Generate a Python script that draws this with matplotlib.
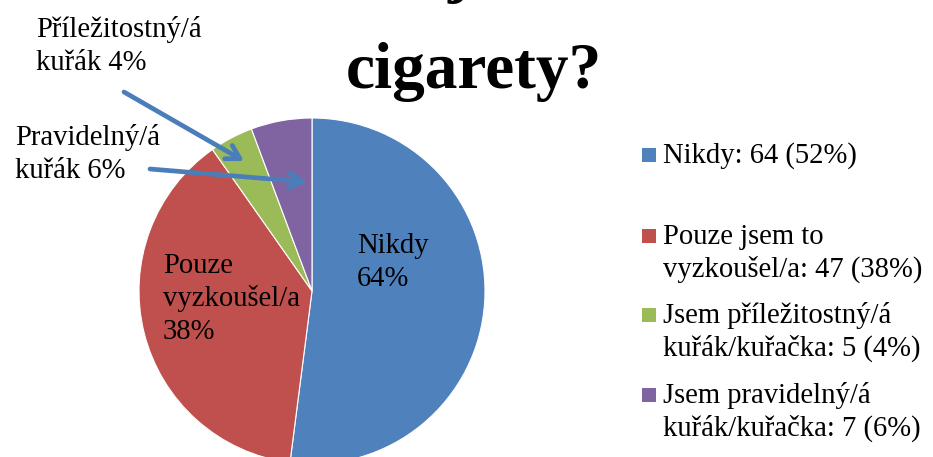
import matplotlib
matplotlib.use("Agg")
import matplotlib.pyplot as plt
from matplotlib.patches import Rectangle

# ---- data ----
categories = ["Nikdy", "Pouze jsem to vyzkoušel/a",
              "Jsem příležitostný/á kuřák/kuřačka", "Jsem pravidelný/á kuřák/kuřačka"]
counts = [64, 47, 5, 7]
colors = ["#4F81BD", "#C0504D", "#9BBB59", "#8064A2"]
legend_labels = ["Nikdy: 64 (52%)",
                 "Pouze jsem to\nvyzkoušel/a: 47 (38%)",
                 "Jsem příležitostný/á\nkuřák/kuřačka: 5 (4%)",
                 "Jsem pravidelný/á\nkuřák/kuřačka: 7 (6%)"]
inside_labels = ["Nikdy\n64%", "Pouze\nvyzkoušel/a\n38%"]
outside_labels = ["Příležitostný/á\nkuřák 4%", "Pravidelný/á\nkuřák 6%"]
title_text = "cigarety?"

W, H = 933, 457
fig = plt.figure(figsize=(W / 100, H / 100), dpi=100)
ax = fig.add_axes([0, 0, 1, 1])

# pie geometry in pixels (from top-left)
cx, cy, R = 312, 291, 173
LINE = 33  # px between baselines


def P(px, py):
    """pixel (from top-left) -> data coords in pie-radius units"""
    return ((px - cx) / R, (cy - py) / R)


def F(px, py):
    """pixel (from top-left) -> figure fraction"""
    return (px / W, 1 - py / H)


ax.pie(counts, colors=colors, startangle=90, counterclock=False,
       radius=1, center=(0, 0),
       wedgeprops=dict(edgecolor="white", linewidth=0.8))
ax.set_xlim((0 - cx) / R, (W - cx) / R)
ax.set_ylim((cy - H) / R, (cy - 0) / R)
ax.set_aspect("auto")
ax.axis("off")

FONT = "Liberation Serif"
FS = 20.6


def multiline(x, y0, label):
    for i, line in enumerate(label.split("\n")):
        fig.text(*F(x, y0 + i * LINE), line, fontsize=FS, family=FONT,
                 ha="left", va="baseline", color="black")


# inside labels
multiline(357, 253, inside_labels[0])
multiline(163, 273, inside_labels[1])

# outside labels with arrows
multiline(36, 37, outside_labels[0])
multiline(15, 145, outside_labels[1])

arrow_color = "#4A7EBB"
for start, tip in [((124, 92), (244, 161)), ((150, 169), (307, 182))]:
    ax.annotate("", xy=P(*tip), xytext=P(*start),
                arrowprops=dict(arrowstyle="->,head_length=0.95,head_width=0.55",
                                color=arrow_color, lw=3.4,
                                shrinkA=0, shrinkB=0))

# title (partially cropped by the frame, as in the reference)
fig.text(*F(474, 88), title_text, fontsize=47, family=FONT,
         fontweight="bold", ha="center", va="baseline")
fig.text(*F(458, -10), "j", fontsize=47, family=FONT,
         fontweight="bold", ha="center", va="baseline")

# legend (manual)
entry_baselines = [163, 244, 323, 403]
for lab, col, yb in zip(legend_labels, colors, entry_baselines):
    fig.patches.append(Rectangle(F(642, yb - 1), 14 / W, 14 / H,
                                 transform=fig.transFigure, facecolor=col,
                                 edgecolor="none"))
    multiline(663, yb, lab)

fig.savefig("out.png", dpi=100)
